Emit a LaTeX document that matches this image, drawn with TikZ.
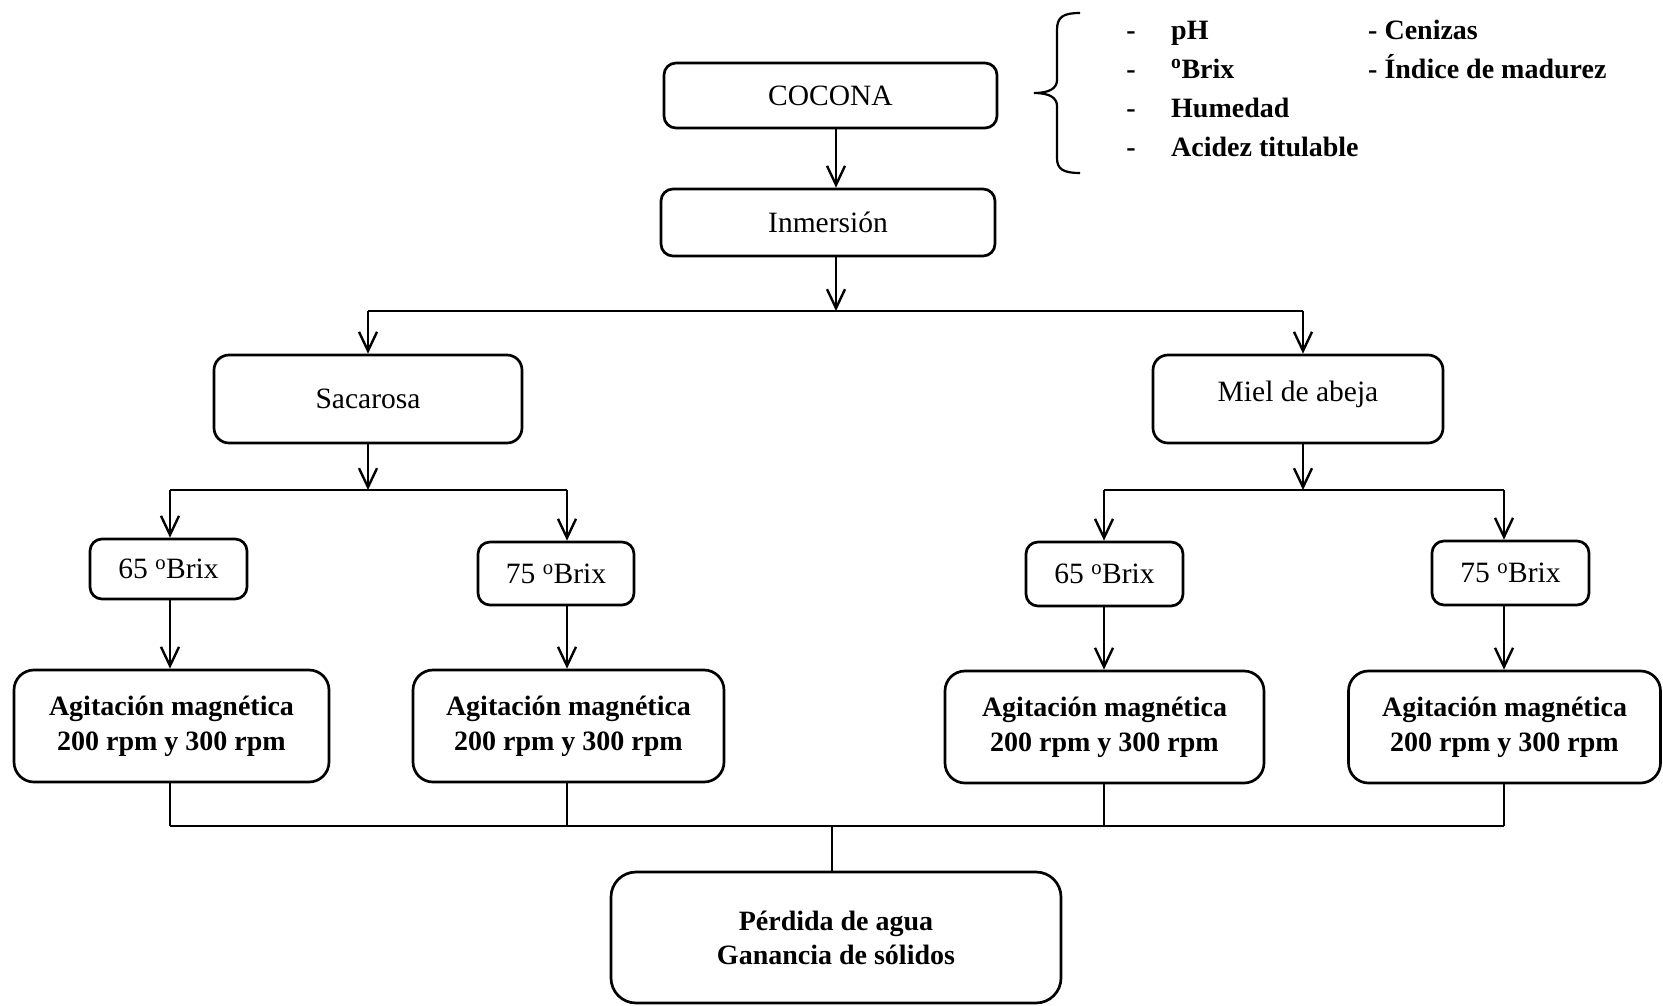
\documentclass[tikz,border=0pt]{standalone}
\usepackage{fontspec}
\setmainfont{Liberation Serif}
\usetikzlibrary{arrows.meta}
\newcommand\regfnt{\fontsize{29.5}{35}\selectfont}
\newcommand\bldfnt{\fontsize{28}{35}\selectfont\bfseries}
\newcommand\gbrix{\textsuperscript{o}Brix}
\begin{document}
\begin{tikzpicture}[x=1pt,y=-1pt,
  box/.style={draw, line width=2.7pt, rounded corners=12pt, inner sep=0pt, align=center, font=\regfnt},
  bigbox/.style={box, rounded corners=20pt, font=\bldfnt},
  conn/.style={line width=2.4pt},
  arr/.style={conn, -{Straight Barb[length=19pt,width=18pt,line width=2.4pt]}},
  listtxt/.style={anchor=base west, inner sep=0pt, font=\bldfnt},
  dashtxt/.style={anchor=base, inner sep=0pt, font=\bldfnt}]
\useasboundingbox (0,0) rectangle (1663,1005);

% boxes
\node[box, minimum width=333, minimum height=65] (cocona) at (830.5,95.5) {COCONA};
\node[box, minimum width=334, minimum height=67] (inm) at (828,222.5) {Inmersión};
\node[box, rounded corners=15pt, minimum width=308, minimum height=88] (sac) at (368,399) {Sacarosa};
\node[box, rounded corners=15pt, minimum width=290, minimum height=88] (miel) at (1298,399) {\raisebox{15pt}{Miel de abeja}};
\node[box, minimum width=157, minimum height=60] (b65l) at (168.5,569) {65 \gbrix};
\node[box, minimum width=156, minimum height=63] (b75l) at (556,573.5) {75 \gbrix};
\node[box, minimum width=157, minimum height=64] (b65r) at (1104.5,574) {65 \gbrix};
\node[box, minimum width=157, minimum height=64] (b75r) at (1510.5,573) {75 \gbrix};
\node[bigbox, minimum width=315, minimum height=112] (ag1) at (171.5,726) {Agitación magnética\\200 rpm y 300 rpm};
\node[bigbox, minimum width=311, minimum height=112] (ag2) at (568.5,726) {Agitación magnética\\200 rpm y 300 rpm};
\node[bigbox, minimum width=319, minimum height=112] (ag3) at (1104.5,727) {Agitación magnética\\200 rpm y 300 rpm};
\node[bigbox, minimum width=312, minimum height=112] (ag4) at (1504.5,727) {Agitación magnética\\200 rpm y 300 rpm};
\node[bigbox, rounded corners=25pt, minimum width=450, minimum height=131, font=\fontsize{28}{34}\selectfont\bfseries] (fin) at (836,937.5) {Pérdida de agua\\Ganancia de sólidos};

% junction coordinates
\coordinate (j1) at (836,311);
\coordinate (j1l) at (368,311);
\coordinate (j1r) at (1303,311);
\coordinate (j2) at (368,490);
\coordinate (j2l) at (170,490);
\coordinate (j2r) at (567,490);
\coordinate (j3) at (1303,490);
\coordinate (j3l) at (1104,490);
\coordinate (j3r) at (1504,490);
\coordinate (k) at (832,826);
\coordinate (k1) at (170,826);
\coordinate (k2) at (567,826);
\coordinate (k3) at (1104,826);
\coordinate (k4) at (1504,826);

% connectors
\draw[arr] (cocona.south -| j1) -- (inm.north -| j1);
\draw[arr] (inm.south -| j1) -- (j1);
\draw[conn] (j1l) -- (j1r);
\draw[arr] (j1l) -- (sac.north -| j1l);
\draw[arr] (j1r) -- (miel.north -| j1r);

\draw[arr] (sac.south -| j2) -- (j2);
\draw[conn] (j2l) -- (j2r);
\draw[arr] (j2l) -- (b65l.north -| j2l);
\draw[arr] (j2r) -- (b75l.north -| j2r);
\draw[arr] (b65l.south -| j2l) -- (ag1.north -| j2l);
\draw[arr] (b75l.south -| j2r) -- (ag2.north -| j2r);

\draw[arr] (miel.south -| j3) -- (j3);
\draw[conn] (j3l) -- (j3r);
\draw[arr] (j3l) -- (b65r.north -| j3l);
\draw[arr] (j3r) -- (b75r.north -| j3r);
\draw[arr] (b65r.south -| j3l) -- (ag3.north -| j3l);
\draw[arr] (b75r.south -| j3r) -- (ag4.north -| j3r);

\draw[conn] (ag1.south -| k1) -- (k1);
\draw[conn] (ag2.south -| k2) -- (k2);
\draw[conn] (ag3.south -| k3) -- (k3);
\draw[conn] (ag4.south -| k4) -- (k4);
\draw[conn] (k1) -- (k4);
\draw[conn] (k) -- (fin.north -| k);

% brace
\draw[line width=2.2pt] (1080,13) .. controls (1063,13) and (1057,17) .. (1057,30)
  -- (1057,80) .. controls (1057,88) and (1050,93) .. (1034,93)
  .. controls (1050,93) and (1057,98) .. (1057,106)
  -- (1057,158) .. controls (1057,169) and (1063,173) .. (1080,173);

% list
\node[dashtxt] (d1) at (1131,39) {-};
\node[dashtxt] (d2) at (1131,78) {-};
\node[dashtxt] (d3) at (1131,117) {-};
\node[dashtxt] (d4) at (1131,156) {-};
\node[listtxt] (l1) at (1171,39) {pH};
\node[listtxt] (l2) at (1171,78) {\gbrix};
\node[listtxt] (l3) at (1171,117) {Humedad};
\node[listtxt] (l4) at (1171,156) {Acidez titulable};
\node[listtxt] (l5) at (1368,39) {- Cenizas};
\node[listtxt] (l6) at (1368,78) {- Índice de madurez};
\end{tikzpicture}
\end{document}
